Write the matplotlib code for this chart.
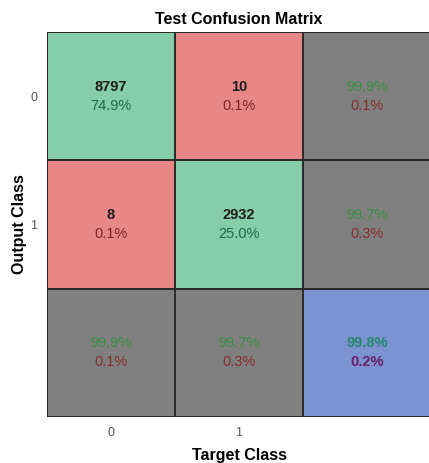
import numpy as np
import matplotlib
matplotlib.use("Agg")
import matplotlib.pyplot as plt
from matplotlib.colors import ListedColormap

plt.rcParams["font.family"] = ["Liberation Sans", "DejaVu Sans"]

# values
classes = ["0", "1"]
counts = [[8797, 10], [8, 2932]]
count_pct = [["74.9%", "0.1%"], ["0.1%", "25.0%"]]
row_correct = ["99.9%", "99.7%"]
row_wrong = ["0.1%", "0.3%"]
col_correct = ["99.9%", "99.7%"]
col_wrong = ["0.1%", "0.3%"]
total_correct = "99.8%"
total_wrong = "0.2%"

# cell kind: 0 = correct, 1 = wrong, 2 = summary, 3 = overall
kinds = np.array([[0, 1, 2], [1, 0, 2], [2, 2, 3]])
cell_colors = ["#86cda9", "#e98787", "#808080", "#7b93d0"]

fig = plt.figure(figsize=(4.29, 4.63), dpi=100)
ax = fig.add_axes([47 / 429, 46 / 463, 384 / 429, 385 / 463])
ax.pcolormesh(np.arange(4), np.arange(4), kinds, cmap=ListedColormap(cell_colors),
              vmin=-0.5, vmax=3.5, edgecolor="#2b2b2b", linewidth=1.2)
ax.set_xlim(0, 3)
ax.set_ylim(3, 0)

fs = 10.5
dy = 0.074
for i in range(2):
    for j in range(2):
        good = i == j
        ax.text(j + 0.5, i + 0.5 - dy, str(counts[i][j]), ha="center", va="center",
                fontsize=fs, fontweight="bold", color="#1c1c1c")
        ax.text(j + 0.5, i + 0.5 + dy, count_pct[i][j], ha="center", va="center",
                fontsize=fs, color="#1f6b3f" if good else "#7a2424")
    # row summary (right column)
    ax.text(2.5, i + 0.5 - dy, row_correct[i], ha="center", va="center", fontsize=fs, color="#3a8f42")
    ax.text(2.5, i + 0.5 + dy, row_wrong[i], ha="center", va="center", fontsize=fs, color="#862c2c")
    # column summary (bottom row)
    ax.text(i + 0.5, 2.5 - dy, col_correct[i], ha="center", va="center", fontsize=fs, color="#3a8f42")
    ax.text(i + 0.5, 2.5 + dy, col_wrong[i], ha="center", va="center", fontsize=fs, color="#862c2c")

ax.text(2.5, 2.5 - dy, total_correct, ha="center", va="center", fontsize=fs,
        fontweight="bold", color="#23866a")
ax.text(2.5, 2.5 + dy, total_wrong, ha="center", va="center", fontsize=fs,
        fontweight="bold", color="#6b1e6e")

ax.set_xticks([0.5, 1.5])
ax.set_xticklabels(classes)
ax.set_yticks([0.5, 1.5])
ax.set_yticklabels(classes)
ax.tick_params(length=0, labelsize=9, colors="#555555", pad=7)
for s in ax.spines.values():
    s.set_visible(False)

ax.set_title("Test Confusion Matrix", fontsize=11.5, fontweight="bold", pad=6)
ax.set_xlabel("Target Class", fontsize=11.5, fontweight="bold", labelpad=7)
ax.set_ylabel("Output Class", fontsize=11.5, fontweight="bold", labelpad=2)

fig.savefig("out.png", dpi=100)
